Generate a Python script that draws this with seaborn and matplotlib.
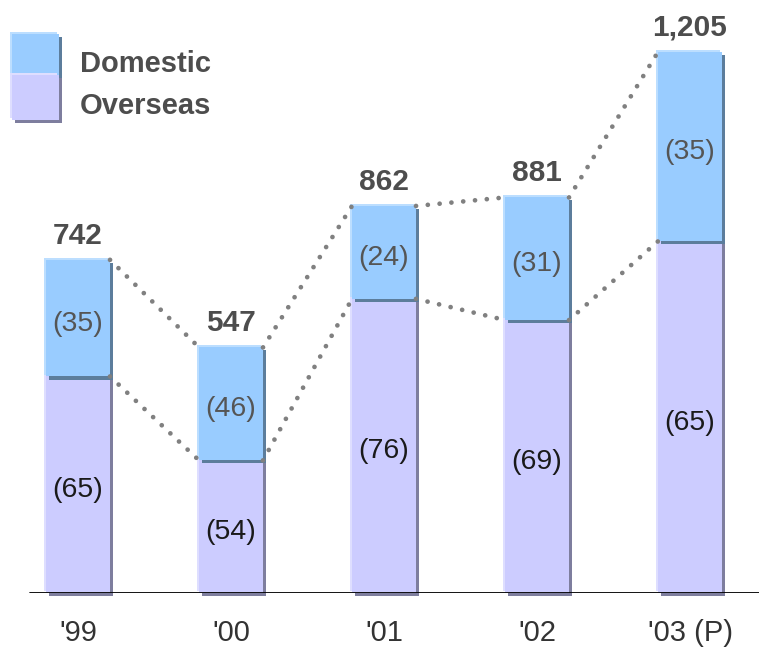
import matplotlib
matplotlib.use("Agg")
import matplotlib.pyplot as plt
import matplotlib.patheffects as pe
from matplotlib.patches import Rectangle
import seaborn as sns

# Sales by fiscal year, with the share (%) of each region
years = ["'99", "'00", "'01", "'02", "'03 (P)"]
totals = [742, 547, 862, 881, 1205]
overseas_pct = [65, 54, 76, 69, 65]
domestic_pct = [35, 46, 24, 31, 35]

overseas = [t * p / 100 for t, p in zip(totals, overseas_pct)]
domestic = [t - o for t, o in zip(totals, overseas)]

DOM = "#99CCFF"
DOM_DARK = "#5C7D9C"
DOM_LIGHT = "#BCDEFF"
OVS = "#CCCCFF"
OVS_DARK = "#7E7E9E"
OVS_LIGHT = "#DEDEFF"
DOT = "#808080"
TXT = "#4D4D4D"

sns.set_theme(style="white")
plt.rcParams["font.family"] = ["Liberation Sans", "DejaVu Sans"]

W, H = 759, 648
fig = plt.figure(figsize=(W / 100, H / 100), dpi=100)
fig.patch.set_facecolor("white")
base_px = 593
ax = fig.add_axes([0, (H - base_px) / H, 1, base_px / H])
ax.set_facecolor("none")

bar_w = 64 / 153


def bevel(dark, light):
    return [
        pe.SimplePatchShadow(offset=(-1.4, 1.4), shadow_rgbFace=light, alpha=1.0),
        pe.SimplePatchShadow(offset=(2.2, -2.2), shadow_rgbFace=dark, alpha=1.0),
        pe.Normal(),
    ]


sns.barplot(x=years, y=overseas, order=years, color=OVS, saturation=1,
            width=bar_w, linewidth=0, ax=ax, zorder=2)
n_ovs = len(ax.patches)
sns.barplot(x=years, y=domestic, order=years, bottom=overseas, color=DOM,
            saturation=1, width=bar_w, linewidth=0, ax=ax, zorder=2)

for k, p in enumerate(ax.patches):
    p.set_clip_on(False)
    if k < n_ovs:
        p.set_path_effects(bevel(OVS_DARK, OVS_LIGHT))
    else:
        p.set_path_effects(bevel(DOM_DARK, DOM_LIGHT))

# dotted connectors between neighbouring bars (totals and region split)
for i in range(len(years) - 1):
    xs = [i + bar_w / 2, i + 1 - bar_w / 2]
    for series in (totals, overseas):
        ax.plot(xs, [series[i], series[i + 1]], color=DOT, lw=3.4,
                ls=(0, (0.01, 2.5)), dash_capstyle="round",
                solid_capstyle="round", zorder=3, clip_on=False)

for i in range(len(years)):
    ax.annotate(f"{totals[i]:,}", (i, totals[i]), xytext=(0, 11.5),
                textcoords="offset points", ha="center", va="baseline",
                fontsize=21.5, fontweight="bold", color=TXT)
    ax.annotate(f"({overseas_pct[i]})", (i, overseas[i] / 2),
                xytext=(0, -4), textcoords="offset points", ha="center",
                va="center", fontsize=20.5, color="#1A1A1A", zorder=4)
    ax.annotate(f"({domestic_pct[i]})", (i, overseas[i] + domestic[i] / 2),
                xytext=(0, -4), textcoords="offset points", ha="center",
                va="center", fontsize=20.5, color="#555555", zorder=4)

ax.axhline(0, xmin=30 / W, xmax=1, color="black", lw=1.3, zorder=5)

x0 = -78 / 153
ax.set_xlim(x0, x0 + W / 153)
ax.set_ylim(0, base_px / 0.449)
ax.set_yticks([])
ax.set_xticks(range(len(years)))
ax.set_xticklabels(years, fontsize=21, color="#333333")
ax.tick_params(axis="x", length=0, pad=18.5)
ax.set_xlabel("")
ax.set_ylabel("")
for s in ax.spines.values():
    s.set_visible(False)

# legend swatches
legend_items = [
    ("Domestic", 34, 75, DOM, DOM_DARK, DOM_LIGHT, 72),
    ("Overseas", 75, 120, OVS, OVS_DARK, OVS_LIGHT, 114),
]
for name, top, bot, fc, dk, lt, base in legend_items:
    r = Rectangle((12 / W, 1 - bot / H), 47 / W, (bot - top) / H,
                  transform=fig.transFigure, facecolor=fc, linewidth=0)
    r.set_path_effects(bevel(dk, lt))
    fig.add_artist(r)
for name, top, bot, fc, dk, lt, base in legend_items:
    fig.text(80 / W, 1 - base / H, name, ha="left", va="baseline",
             fontsize=21, fontweight="bold", color=TXT)

fig.savefig("out.png", dpi=100)
